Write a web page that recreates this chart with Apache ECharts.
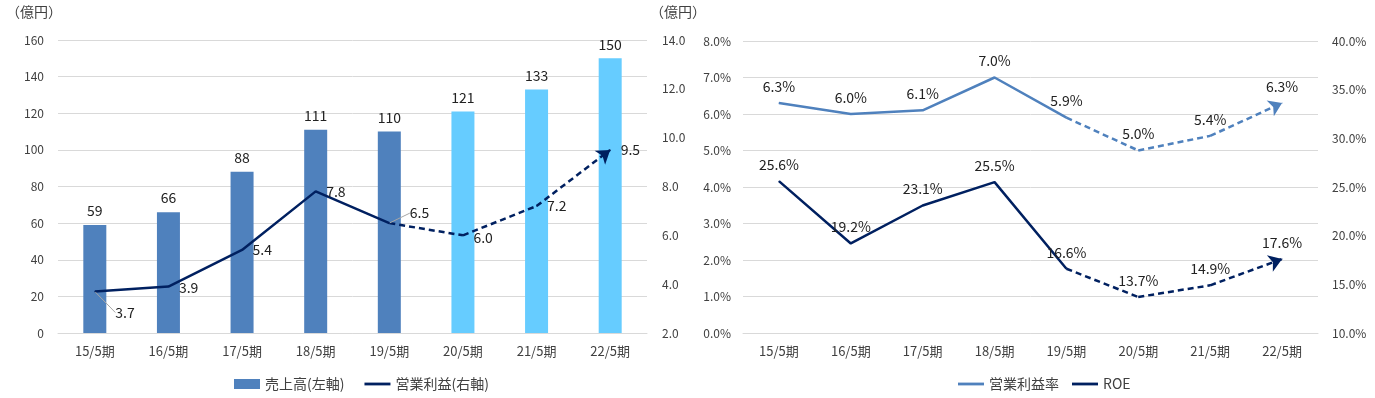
<!DOCTYPE html>
<html><head><meta charset="utf-8">
<script src="https://cdn.jsdelivr.net/npm/echarts@6/dist/echarts.min.js"></script>
<style>html,body{margin:0;padding:0;background:#fff}#c{width:1375px;height:398px}</style>
</head><body><div id="c"></div>
<script>
// ---- data ----
const categories = ['15/5期','16/5期','17/5期','18/5期','19/5期','20/5期','21/5期','22/5期'];
const sales = [59, 66, 88, 111, 110, 121, 133, 150];          // 売上高 (億円)
const opProfit = [3.7, 3.9, 5.4, 7.8, 6.5, 6.0, 7.2, 9.5];     // 営業利益 (億円)
const opMargin = [6.3, 6.0, 6.1, 7.0, 5.9, 5.0, 5.4, 6.3];     // 営業利益率 (%)
const roe = [25.6, 19.2, 23.1, 25.5, 16.6, 13.7, 14.9, 17.6];  // ROE (%)
const lastActualIndex = 4; // 19/5期: after this, plan (dashed / light)
const salesAxis = {min: 0, max: 160, interval: 20};
const profitAxis = {min: 2, max: 14, interval: 2};
const marginAxis = {min: 0, max: 8, interval: 1};
const roeAxis = {min: 10, max: 40, interval: 5};
const names = {sales: '売上高(左軸)', profit: '営業利益(右軸)', margin: '営業利益率', roe: 'ROE'};

// ---- styles ----
const FONT = "'Noto Sans CJK JP', 'Noto Sans', sans-serif";
const C_BAR = '#4F81BD', C_BAR_PLAN = '#66CCFF', C_NAVY = '#002060', C_BLUE = '#4F81BD';
const GRIDLINE = '#D9D9D9', TXT = '#404040', LBL = '#222';
const LINE_ICON = 'path://M0,0L0,0M0,3.6H26V6.4H0ZM26,10L26,10';
const LEADER_IDX = [0, 4]; // profit labels drawn with a leader line

const solidPart = arr => arr.map((v, i) => i <= lastActualIndex ? v : '-');
const seg = (arr, i) => ({coords: [[categories[i], arr[i]], [categories[i + 1], arr[i + 1]]]});
const dashSegs = arr => categories.slice(lastActualIndex, categories.length - 2).map((c, k) => seg(arr, lastActualIndex + k));
const lastSeg = arr => [seg(arr, categories.length - 2)];

const axisLbl = (fmt) => ({color: TXT, fontSize: 12, fontFamily: FONT, formatter: fmt});
const DASH = [6, 4];

function dashedSeries(name, arr, yIdx, xIdx, color) {
  return [
    {name, type: 'lines', coordinateSystem: 'cartesian2d', xAxisIndex: xIdx, yAxisIndex: yIdx,
     symbol: 'none', lineStyle: {color, width: 2.5, type: DASH, opacity: 1, curveness: 0},
     data: dashSegs(arr), z: 3},
    {name, type: 'lines', coordinateSystem: 'cartesian2d', xAxisIndex: xIdx, yAxisIndex: yIdx,
     symbol: ['none', 'arrow'], symbolSize: 13,
     lineStyle: {color, width: 2.5, type: DASH, opacity: 1, curveness: 0},
     data: lastSeg(arr), z: 3}
  ];
}
function labelSeries(name, data, yIdx, xIdx, color, label, extra) {
  return Object.assign({name, type: 'line', xAxisIndex: xIdx, yAxisIndex: yIdx, data,
    symbol: 'circle', symbolSize: 1, showAllSymbol: true, lineStyle: {opacity: 0}, itemStyle: {color}, z: 4,
    label: Object.assign({show: true, fontSize: 14, color: LBL, fontFamily: FONT}, label)}, extra || {});
}

const chart = echarts.init(document.getElementById('c'));
chart.setOption({
  animation: false,
  textStyle: {fontFamily: FONT},
  graphic: [
    {type: 'text', left: 6, top: 5, style: {text: '（億円）', fontSize: 14, fill: TXT, fontFamily: FONT}},
    {type: 'text', left: 650, top: 5, style: {text: '（億円）', fontSize: 14, fill: TXT, fontFamily: FONT}}
  ],
  legend: [
    {data: [{name: names.sales, icon: 'rect'}, {name: names.profit, icon: LINE_ICON}], left: 229, top: 372,
     itemWidth: 26, itemHeight: 10, itemGap: 20, textStyle: {fontSize: 14, color: TXT, fontFamily: FONT}},
    {data: [{name: names.margin, icon: LINE_ICON}, {name: names.roe, icon: LINE_ICON}], left: 953, top: 372,
     itemWidth: 26, itemHeight: 10, itemGap: 13, textStyle: {fontSize: 14, color: TXT, fontFamily: FONT}}
  ],
  grid: [
    {left: 58, right: 728, top: 40, bottom: 65},
    {left: 743, right: 57, top: 41, bottom: 65}
  ],
  xAxis: [
    {type: 'category', gridIndex: 0, data: categories, axisTick: {show: false},
     axisLine: {lineStyle: {color: GRIDLINE}}, axisLabel: {color: TXT, fontSize: 13, margin: 12, fontFamily: FONT}},
    {type: 'category', gridIndex: 1, data: categories, axisTick: {show: false},
     axisLine: {lineStyle: {color: GRIDLINE}}, axisLabel: {color: TXT, fontSize: 13, margin: 12, fontFamily: FONT}}
  ],
  yAxis: [
    {type: 'value', gridIndex: 0, ...salesAxis, axisLabel: {...axisLbl(v => v), margin: 14},
     splitLine: {lineStyle: {color: GRIDLINE}}, axisLine: {show: false}},
    {type: 'value', gridIndex: 0, ...profitAxis, position: 'right', axisLabel: {...axisLbl(v => v.toFixed(1)), margin: 15},
     splitLine: {show: false}, axisLine: {show: false}},
    {type: 'value', gridIndex: 1, ...marginAxis, axisLabel: {...axisLbl(v => v.toFixed(1) + '%'), margin: 12},
     splitLine: {lineStyle: {color: GRIDLINE}}, axisLine: {show: false}},
    {type: 'value', gridIndex: 1, ...roeAxis, position: 'right', axisLabel: {...axisLbl(v => v.toFixed(1) + '%'), margin: 14},
     splitLine: {show: false}, axisLine: {show: false}}
  ],
  series: [
    {name: names.sales, type: 'bar', xAxisIndex: 0, yAxisIndex: 0, barWidth: 23,
     itemStyle: {color: C_BAR},
     data: sales.map((v, i) => ({value: v, itemStyle: {color: i <= lastActualIndex ? C_BAR : C_BAR_PLAN}})),
     label: {show: true, position: 'top', distance: 7, fontSize: 14, color: LBL, fontFamily: FONT}},

    {name: names.profit, type: 'line', xAxisIndex: 0, yAxisIndex: 1, data: solidPart(opProfit),
     symbol: 'none', lineStyle: {color: C_NAVY, width: 2.5}, itemStyle: {color: C_NAVY}, z: 3},
    ...dashedSeries(names.profit, opProfit, 1, 0, C_NAVY),
    labelSeries(names.profit,
      opProfit.map((v, i) => ({value: v, labelLine: {show: LEADER_IDX.includes(i)}})),
      1, 0, C_NAVY, {position: 'right', distance: 10, formatter: p => p.value.toFixed(1)}, {
      labelLine: {show: false, lineStyle: {color: '#A6A6A6', width: 1}},
      labelLayout: p => {
        if (p.dataIndex === 0) return {dx: 10, dy: 21};
        if (p.dataIndex === 4) return {dx: 10, dy: -10};
        if (p.dataIndex === 1) return {dy: 1};
        if (p.dataIndex === 5) return {dy: 2};
        return {};
      }}),

    {name: names.margin, type: 'line', xAxisIndex: 1, yAxisIndex: 2, data: solidPart(opMargin),
     symbol: 'none', lineStyle: {color: C_BLUE, width: 2.5}, itemStyle: {color: C_BLUE}},
    ...dashedSeries(names.margin, opMargin, 2, 1, C_BLUE),
    labelSeries(names.margin, opMargin, 2, 1, C_BLUE, {position: 'top', distance: 9, formatter: p => p.value.toFixed(1) + '%'}),

    {name: names.roe, type: 'line', xAxisIndex: 1, yAxisIndex: 3, data: solidPart(roe),
     symbol: 'none', lineStyle: {color: C_NAVY, width: 2.5}, itemStyle: {color: C_NAVY}},
    ...dashedSeries(names.roe, roe, 3, 1, C_NAVY),
    labelSeries(names.roe, roe, 3, 1, C_NAVY, {position: 'top', distance: 9, formatter: p => p.value.toFixed(1) + '%'})
  ]
});
</script></body></html>
